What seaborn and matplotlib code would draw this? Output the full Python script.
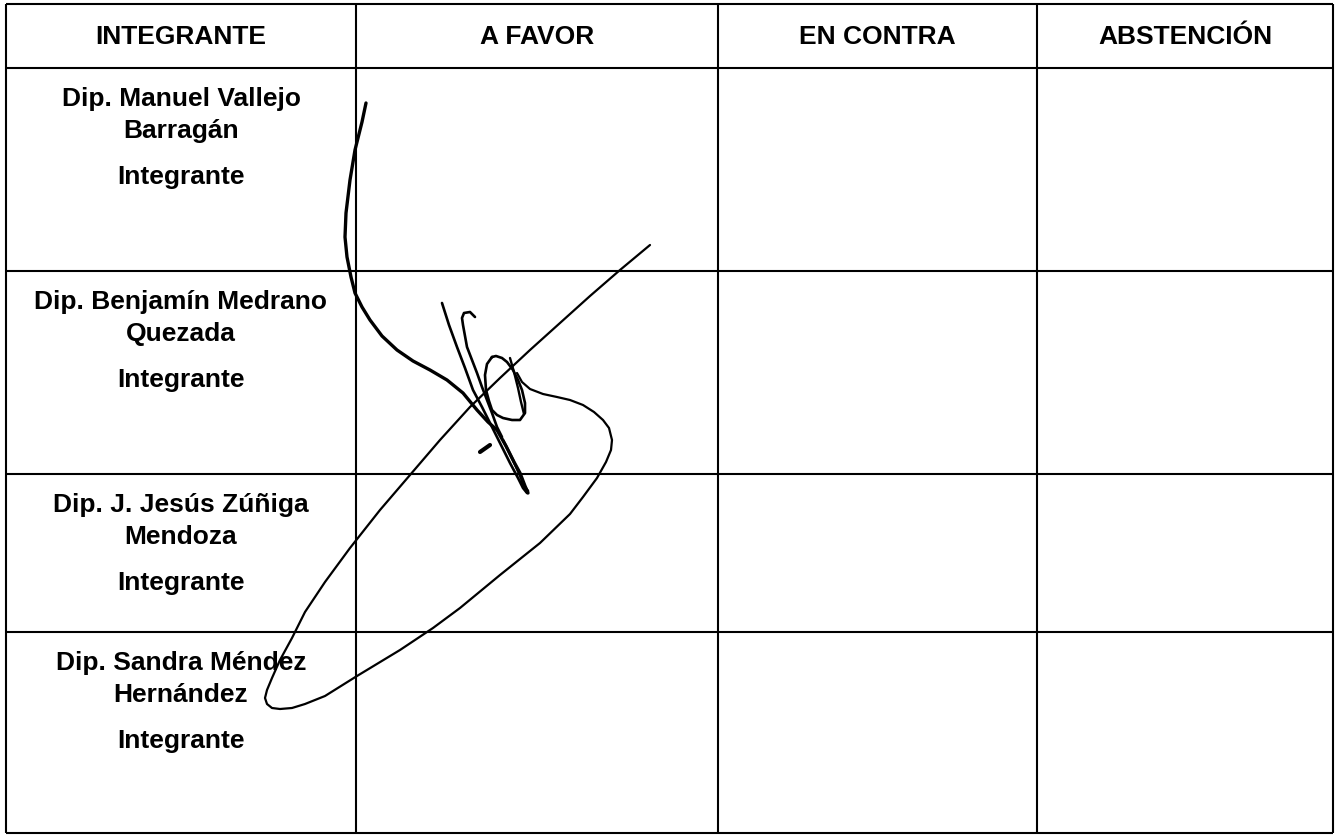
import numpy as np
import pandas as pd
import seaborn as sns
import matplotlib.pyplot as plt

# table content
headers = ["INTEGRANTE", "A FAVOR", "EN CONTRA", "ABSTENCIÓN"]
names_1 = ["Dip. Manuel Vallejo", "Dip. Benjamín Medrano", "Dip. J. Jesús Zúñiga", "Dip. Sandra Méndez"]
names_2 = ["Barragán", "Quezada", "Mendoza", "Hernández"]
roles = ["Integrante", "Integrante", "Integrante", "Integrante"]

# grid edges (pixels)
col_edges = [6, 356, 718, 1037, 1333]
row_edges = [4, 68, 271, 474, 632, 833]

# handwritten signature strokes over the "A FAVOR" column
stroke_a_x = [366, 362, 355, 350, 346, 345, 347, 351, 355, 362, 370, 382, 397, 413, 430, 447, 463, 477, 488, 497, 506, 514, 520, 525, 528]
stroke_a_y = [103, 122, 150, 180, 213, 237, 257, 277, 293, 307, 320, 336, 350, 361, 370, 380, 393, 410, 422, 430, 446, 462, 473, 486, 493]
stroke_c_x = [442, 449, 457, 465, 473, 482, 490, 500, 510, 518, 523, 527, 528, 525, 522, 513, 503]
stroke_c_y = [303, 325, 347, 368, 390, 407, 423, 443, 463, 478, 488, 493, 491, 487, 480, 460, 440]
stroke_d_x = [475, 470, 464, 462, 463, 467, 472, 477, 482, 487, 492, 497, 502]
stroke_d_y = [317, 312, 313, 318, 325, 347, 360, 373, 387, 400, 413, 427, 437]
loop_e_x = [492, 487, 485, 486, 489, 492, 497, 503, 512, 520, 525, 525, 522, 518, 513, 507, 502, 496, 492]
loop_e_y = [357, 364, 375, 390, 401, 410, 415, 418, 420, 420, 413, 403, 390, 380, 370, 362, 358, 356, 357]
stroke_f_x = [510, 514, 518, 521, 524]
stroke_f_y = [358, 372, 388, 402, 414]
big_loop_x = [650, 620, 590, 560, 530, 500, 470, 440, 410, 380, 350, 325, 305, 292, 280, 272, 267, 265, 267, 272, 280, 292, 305, 325, 357, 400, 433, 460, 500, 540, 570, 583, 597, 606, 611, 612, 609, 603, 594, 583, 570, 557, 543, 530, 522, 517]
big_loop_y = [245, 270, 296, 323, 350, 378, 407, 440, 475, 510, 548, 582, 612, 638, 660, 678, 690, 698, 704, 708, 709, 708, 704, 696, 676, 650, 628, 608, 575, 543, 514, 497, 478, 462, 450, 440, 428, 420, 412, 405, 400, 397, 394, 389, 382, 373]
dash_x = [480, 490]
dash_y = [452, 445]

strokes = [
    (stroke_a_x, stroke_a_y, 2.4),
    (stroke_c_x, stroke_c_y, 1.9),
    (stroke_d_x, stroke_d_y, 1.9),
    (loop_e_x, loop_e_y, 1.9),
    (stroke_f_x, stroke_f_y, 1.7),
    (big_loop_x, big_loop_y, 1.6),
    (dash_x, dash_y, 3.0),
]

sns.set_style("white")
plt.rcParams['font.family'] = ['Liberation Sans', 'DejaVu Sans']

fig = plt.figure(figsize=(13.36, 8.36), dpi=100)
ax = fig.add_axes([0, 0, 1, 1])

# table grid
ax.hlines(row_edges, col_edges[0], col_edges[-1], color="black", lw=1.5)
ax.vlines(col_edges, row_edges[0], row_edges[-1], color="black", lw=1.5)

fs = 19
for i, h in enumerate(headers):
    cx = (col_edges[i] + col_edges[i + 1]) / 2
    ax.text(cx, (row_edges[0] + row_edges[1]) / 2 + 1, h, ha="center", va="center",
            fontsize=fs, fontweight="bold", color="black")

cx = (col_edges[0] + col_edges[1]) / 2
for r in range(len(names_1)):
    top = row_edges[r + 1]
    ax.text(cx, top + 31, names_1[r], ha="center", va="center", fontsize=fs, fontweight="bold", color="black")
    ax.text(cx, top + 63, names_2[r], ha="center", va="center", fontsize=fs, fontweight="bold", color="black")
    ax.text(cx, top + 109, roles[r], ha="center", va="center", fontsize=fs, fontweight="bold", color="black")

# signature
for sx, sy, lw in strokes:
    df = pd.DataFrame({"x": sx, "y": sy})
    sns.lineplot(data=df, x="x", y="y", sort=False, estimator=None, color="black",
                 lw=lw, ax=ax, solid_capstyle="round", solid_joinstyle="round")

ax.set_xlim(0, 1336)
ax.set_ylim(836, 0)
ax.axis("off")
fig.savefig("out.png", dpi=100)
